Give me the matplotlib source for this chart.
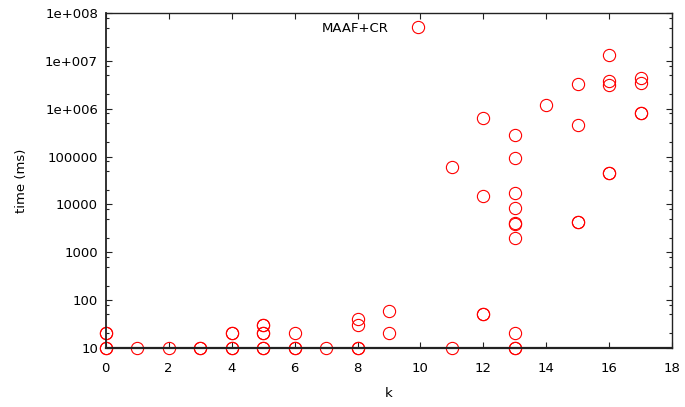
import matplotlib
matplotlib.use("Agg")
import matplotlib.pyplot as plt
from matplotlib.ticker import FixedLocator, NullFormatter
import numpy as np

# data (duplicates are drawn twice, like the original)
k_vals = [0, 0, 0, 0,
          1, 2, 3, 3,
          4, 4, 4, 4,
          5, 5, 5, 5, 5, 5,
          6, 6, 6, 7,
          8, 8, 8, 8,
          9, 9,
          11, 11,
          12, 12, 12, 12,
          13, 13, 13, 13, 13, 13, 13, 13, 13, 13,
          14,
          15, 15, 15, 15,
          16, 16, 16, 16, 16,
          17, 17, 17, 17]
time_ms = [10, 10, 20, 20,
           10, 10, 10, 10,
           10, 10, 20, 20,
           10, 10, 20, 20, 30, 30,
           10, 10, 20, 10,
           10, 10, 30, 40,
           20, 60,
           10, 60000,
           50, 50, 15200, 640000,
           10, 10, 20, 2000, 3800, 4000, 8400, 17000, 93000, 280000,
           1.2e6,
           4200, 4300, 470000, 3.3e6,
           45000, 45000, 3.1e6, 3.8e6, 1.32e7,
           8.0e5, 8.1e5, 3.55e6, 4.4e6]
series_name = 'MAAF+CR'

x_ticks = list(range(0, 19, 2))
y_ticks = [10, 100, 1000, 10000, 100000, 1e6, 1e7, 1e8]
y_tick_labels = ['10', '100', '1000', '10000', '100000', '1e+006', '1e+007', '1e+008']

plt.rcParams['font.family'] = 'DejaVu Sans'
plt.rcParams['font.size'] = 9.5

fig = plt.figure(figsize=(6.85, 4.07), dpi=100)
ax = fig.add_axes([0.1543, 0.1457, 0.8272, 0.8216])

ax.plot(k_vals, time_ms, linestyle='none', marker='o', markersize=8.8,
        markerfacecolor='none', markeredgecolor='red', markeredgewidth=0.8,
        clip_on=False, label=series_name)

ax.set_yscale('log')
ax.set_xlim(0, 18)
ax.set_ylim(10, 1e8)

ax.set_xticks(x_ticks)
ax.yaxis.set_major_locator(FixedLocator(y_ticks))
ax.set_yticklabels(y_tick_labels)
minor = [m * 10.0 ** e for e in range(1, 8) for m in (2, 5, 8)]
ax.yaxis.set_minor_locator(FixedLocator(minor))
ax.yaxis.set_minor_formatter(NullFormatter())

ax.tick_params(which='both', direction='in', top=True, right=True, color='#222222')
ax.tick_params(which='major', length=4.5, width=0.8)
ax.tick_params(which='minor', length=2.5, width=0.8)
ax.tick_params(axis='x', pad=10)
ax.tick_params(axis='y', pad=5.5)
for s in ax.spines.values():
    s.set_color('#222222')
    s.set_linewidth(1.0)
ax.spines['bottom'].set_linewidth(1.6)
ax.spines['left'].set_linewidth(1.3)

ax.set_xlabel('k')
ax.set_ylabel('time (ms)')
ax.xaxis.set_label_coords(0.5, -0.118)
ax.yaxis.set_label_coords(-0.137, 0.5)

ax.legend(loc='center right', bbox_to_anchor=(0.563, 0.956), frameon=False,
          markerfirst=False, handlelength=1.0, handletextpad=1.77,
          borderpad=0, borderaxespad=0)

fig.savefig('out.png', dpi=100)
